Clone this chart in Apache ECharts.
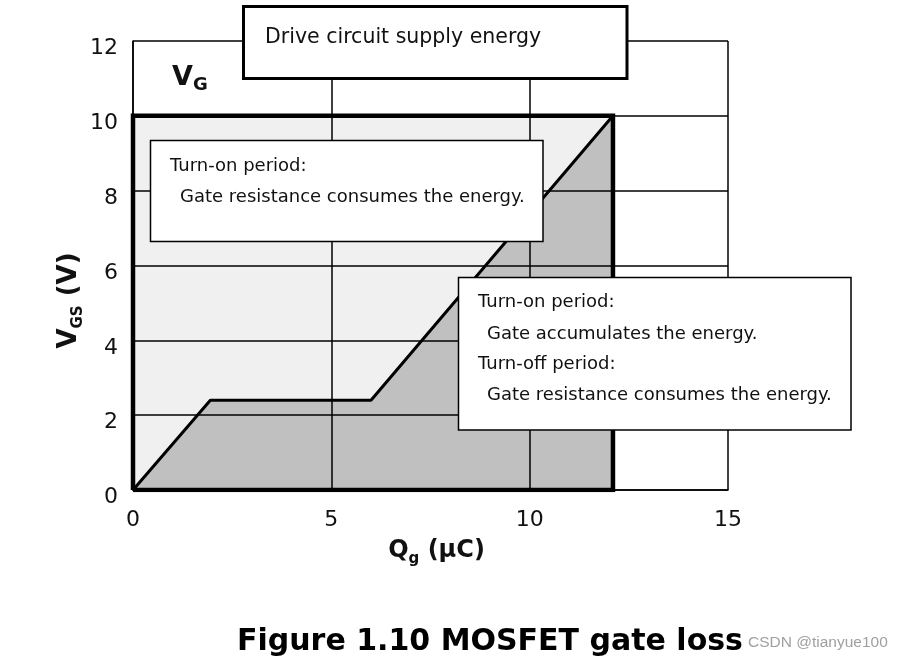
<!DOCTYPE html>
<html>
<head>
<meta charset="utf-8">
<script src="https://cdn.jsdelivr.net/npm/echarts@6/dist/echarts.min.js"></script>
<style>
html,body{margin:0;padding:0;background:#fff;}
#chart{width:904px;height:662px;}
</style>
</head>
<body>
<div id="chart"></div>
<script>
// ---- data ----
const qgPoints = [0, 1.95, 6, 12.1];      // gate charge Qg (µC)
const vgsPoints = [0, 2.4, 2.4, 10];      // gate-source voltage VGS (V)
const vgLevel = 10;                       // drive voltage VG (V)
const qgTotal = 12.1;                     // total gate charge (µC)
const xAxisRange = [0, 15, 5];            // min, max, interval
const yAxisRange = [0, 12, 2];
const titleText = 'Figure 1.10 MOSFET gate loss';
const watermarkText = 'CSDN @tianyue100';
const topBoxText = 'Drive circuit supply energy';
const box1Lines = ['Turn-on period:', 'Gate resistance consumes the energy.'];
const box2Lines = ['Turn-on period:', 'Gate accumulates the energy.', 'Turn-off period:', 'Gate resistance consumes the energy.'];

const curveData = qgPoints.map((q, i) => [q, vgsPoints[i]]);
const rectTop = [[0, vgLevel], [qgTotal, vgLevel]];
const rectOutline = [[0, 0], [0, vgLevel], [qgTotal, vgLevel], [qgTotal, 0], [0, 0]];

const FONT = 'DejaVu Sans';
const chart = echarts.init(document.getElementById('chart'), null, {renderer: 'canvas'});

function txt(x, y, s, size, extra) {
  return Object.assign({
    type: 'text', x: x, y: y, z: 101,
    style: {text: s, fontFamily: FONT, fontSize: size, fill: '#111', verticalAlign: 'middle', align: 'left'}
  }, extra || {});
}

const option = {
  animation: false,
  backgroundColor: '#fff',
  title: {
    text: titleText, left: 232, top: 621,
    textStyle: {fontFamily: FONT, fontSize: 30, fontWeight: 'bold', color: '#000', lineHeight: 32}
  },
  grid: {left: 133, right: 176, top: 41, bottom: 172, containLabel: false},
  xAxis: {
    type: 'value', min: xAxisRange[0], max: xAxisRange[1], interval: xAxisRange[2], z: 3,
    axisLine: {show: true, lineStyle: {color: '#000', width: 1.5}},
    axisTick: {show: false},
    splitLine: {show: true, lineStyle: {color: '#000', width: 1.5}},
    axisLabel: {fontFamily: FONT, fontSize: 22, color: '#111', margin: 19, lineHeight: 22, showMinLabel: true, showMaxLabel: true},
    name: '{q|Q}{s|g}{q| (µC)}',
    nameLocation: 'middle', nameGap: 49,
    nameTextStyle: {
      padding: [0, 0, 0, 12],
      rich: {
        q: {fontFamily: FONT, fontSize: 24, fontWeight: 'bold', color: '#111', lineHeight: 28, padding: [0, 0, 4, 0], verticalAlign: 'top'},
        s: {fontFamily: FONT, fontSize: 15, fontWeight: 'bold', color: '#111', lineHeight: 16, verticalAlign: 'bottom'}
      }
    }
  },
  yAxis: {
    type: 'value', min: yAxisRange[0], max: yAxisRange[1], interval: yAxisRange[2], z: 3,
    axisLine: {show: true, lineStyle: {color: '#000', width: 1.5}},
    axisTick: {show: false},
    splitLine: {show: true, lineStyle: {color: '#000', width: 1.5}},
    axisLabel: {fontFamily: FONT, fontSize: 22, color: '#111', margin: 15, verticalAlign: 'top', lineHeight: 15, showMinLabel: true, showMaxLabel: true},
    name: '{v|V}{s|GS}{v| (V)}',
    nameLocation: 'middle', nameRotate: 90, nameGap: 47, nameMoveOverlap: false,
    nameTextStyle: {
      padding: [0, 70, 0, 0],
      rich: {
        v: {fontFamily: FONT, fontSize: 26, fontWeight: 'bold', color: '#111', lineHeight: 30, padding: [0, 0, 5, 0], verticalAlign: 'top'},
        s: {fontFamily: FONT, fontSize: 15, fontWeight: 'bold', color: '#111', lineHeight: 16, verticalAlign: 'bottom'}
      }
    }
  },
  series: [
    {
      name: 'Drive supply energy', type: 'line', data: rectTop, z: 1,
      symbol: 'none', lineStyle: {width: 0}, areaStyle: {color: '#f0f0f0', opacity: 1}, silent: true
    },
    {
      name: 'Gate energy', type: 'line', data: curveData, z: 2,
      symbol: 'none', lineStyle: {color: '#000', width: 3}, areaStyle: {color: '#c0c0c0', opacity: 1}, silent: true
    },
    {
      name: 'VG x Qg', type: 'line', data: rectOutline, z: 4,
      symbol: 'none', lineStyle: {color: '#000', width: 4.5, join: 'miter'}, silent: true
    }
  ],
  graphic: [
    {type: 'rect', z: 100, shape: {x: 243.5, y: 6.5, width: 383.5, height: 72}, style: {fill: '#fff', stroke: '#000', lineWidth: 3}},
    txt(265, 38, topBoxText, 20.5),
    {
      type: 'text', x: 172, y: 64, z: 101,
      style: {
        text: '{v|V}{s|G}', verticalAlign: 'top', align: 'left',
        rich: {
          v: {fontFamily: FONT, fontSize: 27, fontWeight: 'bold', fill: '#111', lineHeight: 30, padding: [0, 0, 4, 0], verticalAlign: 'top'},
          s: {fontFamily: FONT, fontSize: 18, fontWeight: 'bold', fill: '#111', lineHeight: 18, verticalAlign: 'bottom'}
        }
      }
    },
    {type: 'rect', z: 100, shape: {x: 150.5, y: 140.5, width: 392.5, height: 101}, style: {fill: '#fff', stroke: '#000', lineWidth: 1.5}},
    txt(170, 166, box1Lines[0], 18),
    txt(180, 197, box1Lines[1], 18),
    {type: 'rect', z: 100, shape: {x: 458.5, y: 277.5, width: 392.5, height: 152.5}, style: {fill: '#fff', stroke: '#000', lineWidth: 1.5}},
    txt(478, 302.5, box2Lines[0], 18),
    txt(487, 334.5, box2Lines[1], 18),
    txt(478, 364.5, box2Lines[2], 18),
    txt(487, 395, box2Lines[3], 18),
    {
      type: 'text', x: 748, y: 643, z: 101,
      style: {text: watermarkText, fontFamily: 'Liberation Sans', fontSize: 15.5, fill: '#a0a0a0', verticalAlign: 'middle', align: 'left'}
    }
  ]
};
chart.setOption(option);
</script>
</body>
</html>
